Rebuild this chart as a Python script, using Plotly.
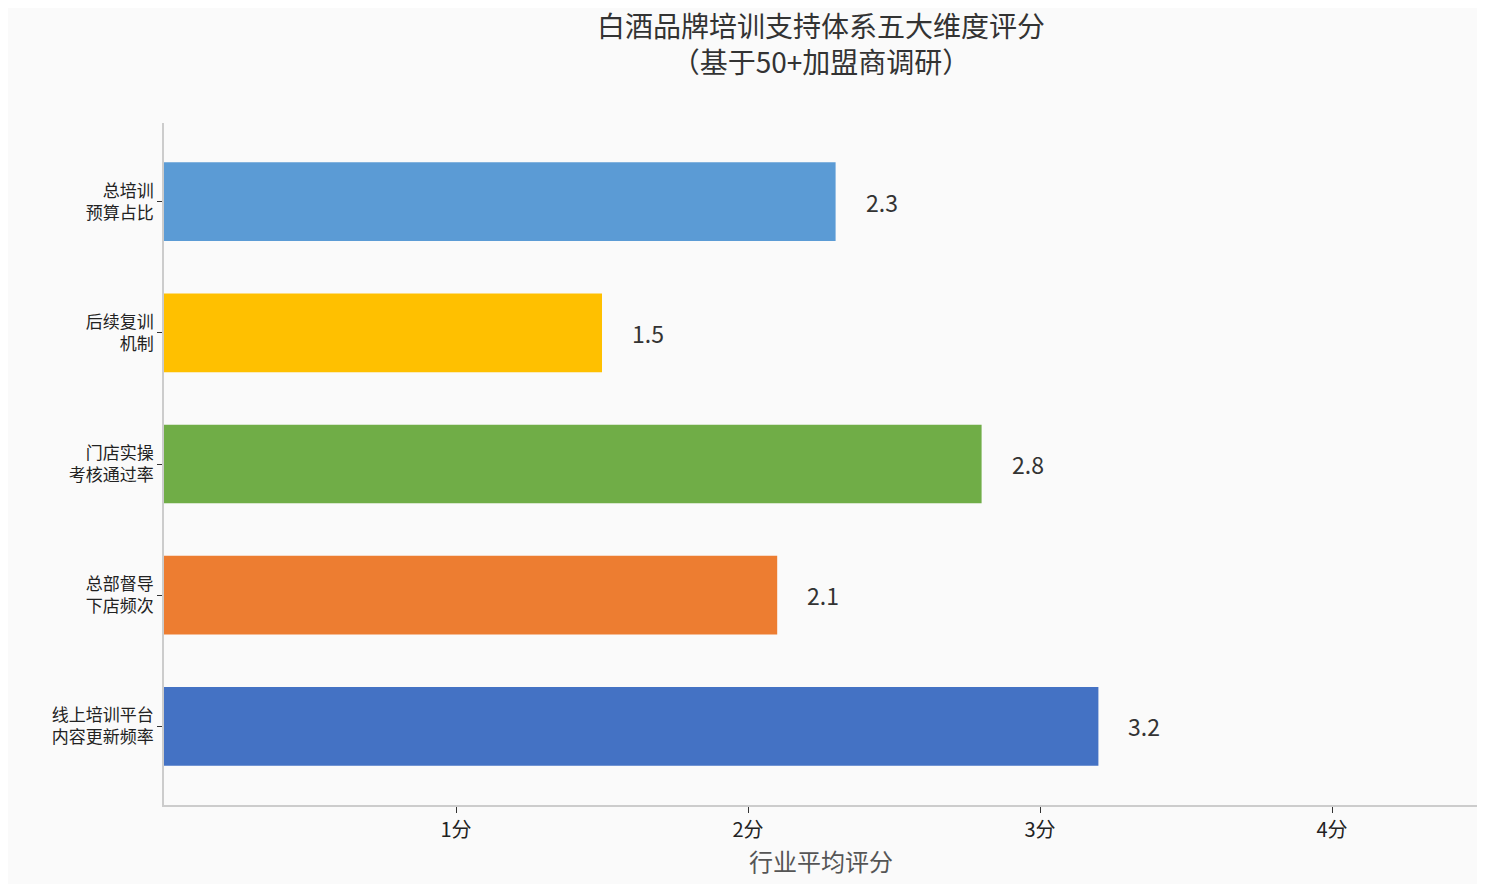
import plotly.graph_objects as go

categories = ['线上培训平台<br>内容更新频率', '总部督导<br>下店频次', '门店实操<br>考核通过率', '后续复训<br>机制', '总培训<br>预算占比']
scores = [3.2, 2.1, 2.8, 1.5, 2.3]
colors = ['#4472C4', '#ED7D31', '#70AD47', '#FFC000', '#5B9BD5']
tick_vals = [1, 2, 3, 4]
tick_text = ['1分', '2分', '3分', '4分']

font = 'Noto Sans CJK SC'

fig = go.Figure(go.Bar(
    y=categories, x=scores, orientation='h',
    marker=dict(color=colors, line=dict(width=0)),
    width=0.6, showlegend=False,
))

for cat, v in zip(categories, scores):
    fig.add_annotation(x=v, y=cat, text=str(v), showarrow=False,
                       xanchor='left', xshift=28,
                       font=dict(family=font, size=23, color='#333333'))

# title as a paper annotation so both lines stay in view
fig.add_annotation(xref='paper', yref='paper', x=0.5, y=1.0, yshift=40,
                   xanchor='center', yanchor='bottom', showarrow=False,
                   text='白酒品牌培训支持体系五大维度评分<br>（基于50+加盟商调研）',
                   font=dict(family=font, size=28, color='#333333'))

fig.update_layout(
    paper_bgcolor='#FAFAFA', plot_bgcolor='#FAFAFA',
    margin=dict(l=156, r=15, t=115, b=87),
    width=1485, height=884,
    font=dict(family=font, color='#222222'),
)
fig.update_xaxes(range=[0, 4.5], tickvals=tick_vals, ticktext=tick_text,
                 ticks='outside', ticklen=6, tickcolor='#333333',
                 tickfont=dict(size=20), showgrid=False, zeroline=False,
                 showline=True, linecolor='#CCCCCC', linewidth=1.5,
                 title=dict(text='行业平均评分', font=dict(size=24, color='#555555'), standoff=8))
fig.update_yaxes(ticks='outside', ticklen=5, tickcolor='#333333',
                 tickfont=dict(size=17), showgrid=False,
                 showline=True, linecolor='#CCCCCC', linewidth=1.5,
                 range=[-0.6, 4.6])

fig.write_html('out.html')
